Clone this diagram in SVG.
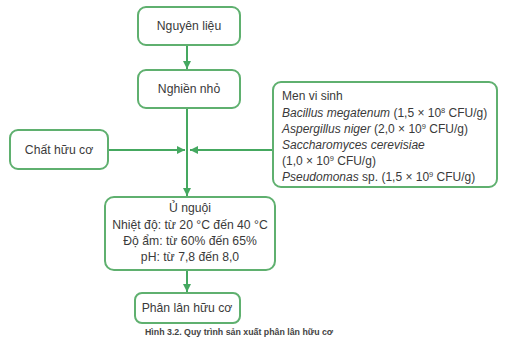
<svg xmlns="http://www.w3.org/2000/svg" width="515" height="363" viewBox="0 0 515 363">
<defs>
<style>
.box{fill:#fff;stroke:#5fb06f;stroke-width:2}
.t{font-family:"Liberation Sans",Arial,sans-serif;font-size:12.2px;fill:#3a3a3a}
.c{text-anchor:middle}
.s{font-family:"Liberation Sans",Arial,sans-serif;font-size:12px;fill:#3a3a3a}
.ln{stroke:#45a860;stroke-width:2;fill:none}
.cap{font-family:"Liberation Sans",Arial,sans-serif;font-size:8.8px;font-weight:bold;fill:#444}
</style>
<marker id="ah" viewBox="0 0 10 10" refX="10" refY="5" markerWidth="4" markerHeight="4" orient="auto" markerUnits="strokeWidth">
<path d="M0,0 L10,5 L0,10 z" fill="#45a860"/>
</marker>
</defs>
<rect width="515" height="363" fill="#fff"/>
<g id="connectors">
<line class="ln" x1="187" y1="46" x2="187" y2="69" marker-end="url(#ah)"/>
<line class="ln" x1="187" y1="109" x2="187" y2="196" marker-end="url(#ah)"/>
<line class="ln" x1="108" y1="150" x2="185" y2="150" marker-end="url(#ah)"/>
<line class="ln" x1="273" y1="150" x2="190" y2="150" marker-end="url(#ah)"/>
<line class="ln" x1="187" y1="271" x2="187" y2="292" marker-end="url(#ah)"/>
</g>
<g id="nguyen-lieu">
<rect class="box" x="138" y="7" width="102" height="38" rx="8"/>
<text class="t c" x="189" y="30">Nguyên liệu</text>
</g>
<g id="nghien-nho">
<rect class="box" x="138" y="70" width="102" height="38" rx="8"/>
<text class="t c" x="189" y="93">Nghiền nhỏ</text>
</g>
<g id="chat-huu-co">
<rect class="box" x="10" y="130" width="98" height="39" rx="8"/>
<text class="t c" x="59" y="154">Chất hữu cơ</text>
</g>
<g id="men-vi-sinh">
<rect class="box" x="273" y="82" width="224" height="105" rx="8"/>
<text class="s" x="282" y="100">Men vi sinh</text>
<text class="s" x="282" y="117"><tspan font-style="italic">Bacillus megatenum</tspan> (1,5 × 10<tspan font-size="7.5" dy="-4">8</tspan><tspan dy="4"> CFU/g)</tspan></text>
<text class="s" x="282" y="133"><tspan font-style="italic">Aspergillus niger</tspan> (2,0 × 10<tspan font-size="7.5" dy="-4">9</tspan><tspan dy="4"> CFU/g)</tspan></text>
<text class="s" x="282" y="149" font-style="italic">Saccharomyces cerevisiae</text>
<text class="s" x="282" y="165">(1,0 × 10<tspan font-size="7.5" dy="-4">9</tspan><tspan dy="4"> CFU/g)</tspan></text>
<text class="s" x="282" y="181"><tspan font-style="italic">Pseudomonas</tspan> sp. (1,5 × 10<tspan font-size="7.5" dy="-4">9</tspan><tspan dy="4"> CFU/g)</tspan></text>
</g>
<g id="u-nguoi">
<rect class="box" x="105" y="197" width="170" height="73" rx="9"/>
<text class="t c" x="190" y="212">Ủ nguội</text>
<text class="t c" x="190" y="229">Nhiệt độ: từ 20 °C đến 40 °C</text>
<text class="t c" x="190" y="245">Độ ẩm: từ 60% đến 65%</text>
<text class="t c" x="190" y="261">pH: từ 7,8 đến 8,0</text>
</g>
<g id="phan-lan">
<rect class="box" x="135" y="293" width="105" height="30" rx="7"/>
<text class="t c" x="187" y="312">Phân lân hữu cơ</text>
</g>
<text class="cap" x="145" y="335">Hình 3.2. Quy trình sản xuất phân lân hữu cơ</text>
</svg>
